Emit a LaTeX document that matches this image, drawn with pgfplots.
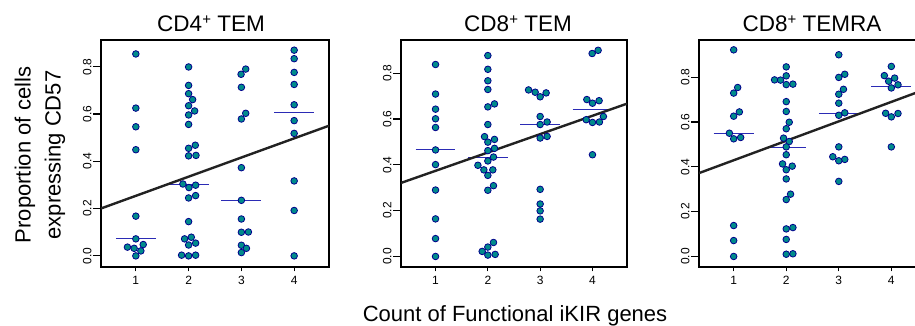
\documentclass[border=0pt]{standalone}
\usepackage{pgfplots}
\pgfplotsset{compat=1.18}
\usepackage{fontspec}
\setmainfont{Liberation Sans}
\definecolor{dotfill}{HTML}{008B8B}
\definecolor{dotedge}{HTML}{00008B}
\definecolor{medcol}{HTML}{2B2BB5}
\definecolor{regcol}{HTML}{222222}
\newcommand{\plussup}{\raisebox{0.62ex}{\fontsize{15}{15}\selectfont +}}
\pgfplotsset{
  panel/.style={
    scale only axis, height=227pt, anchor=south west,
    xmin=0.34, xmax=4.66, xtick={1,2,3,4}, xticklabels={1,2,3,4}, ytick={0,0.2,0.4,0.6,0.8},
    tick pos=left, tick align=outside,
    axis line style={line width=1.6pt},
    /pgf/number format/assume math mode=true,
    /pgf/number format/fixed, /pgf/number format/fixed zerofill, /pgf/number format/precision=1,
    ticklabel style={font=\fontsize{12}{14}\selectfont},
    xtick style={line width=1.2pt, black, /pgfplots/major tick length=4.5pt},
    ytick style={line width=1.2pt, black, /pgfplots/major tick length=8pt},
    yticklabel style={rotate=90, anchor=south, inner xsep=0pt, inner ysep=5pt},
    xticklabel style={anchor=north, inner xsep=0pt, inner ysep=0pt, yshift=-5pt},
    clip=true,
  },
  dots/.style={only marks, mark=*, mark size=3.3pt, mark options={fill=dotfill, draw=dotedge, line width=0.8pt}},
  med/.style={medcol, line width=1pt, no marks},
  reg/.style={regcol, line width=2.4pt, no marks},
}
\begin{document}
\begin{tikzpicture}[x=1pt,y=1pt]
\path[use as bounding box, clip] (0,0) rectangle (915,326);
% Panel 1: CD4+ TEM
\begin{axis}[panel, at={(101pt,59pt)}, width=228pt, ymin=-0.047, ymax=0.913]
\addplot[dots] coordinates {
(1,0.854) (1,0.625) (1,0.546) (1,0.449) (1,0.168) (1,0.072) (0.841,0.037) (0.968,0.032) (1.14,0.048) (1.095,0.021) (1,0.0)
(2,0.799) (2,0.721) (2,0.686) (2.076,0.661) (2,0.635) (2.114,0.613) (2,0.596) (2,0.556) (2.127,0.468) (2,0.455) (2,0.423) (2.14,0.425) (1.892,0.304) (2.133,0.299) (2.006,0.289) (2.133,0.255) (2,0.245) (2,0.145) (1.924,0.072) (2.051,0.079) (2,0.046) (2.133,0.054) (1.867,0.003) (2,0.0) (2.133,0.003)
(3.082,0.790) (2.994,0.768) (3,0.713) (3.082,0.603) (3,0.579) (3,0.373) (3,0.235) (3,0.156) (3,0.100) (3.133,0.101) (3,0.045) (3.095,0.032) (3,0.014)
(4,0.870) (4,0.834) (4,0.776) (4,0.725) (4,0.639) (4,0.572) (4,0.518) (4,0.317) (4,0.192) (4,0.0)
};
\addplot[med] coordinates {(0.62,0.072) (1.38,0.072)};
\addplot[med] coordinates {(1.62,0.304) (2.38,0.304)};
\addplot[med] coordinates {(2.62,0.235) (3.38,0.235)};
\addplot[med] coordinates {(3.62,0.606) (4.38,0.606)};
\addplot[reg] coordinates {(0.34,0.2005) (4.66,0.5505)};
\end{axis}
% Panel 2: CD8+ TEM
\begin{axis}[panel, at={(401pt,59pt)}, width=226pt, ymin=-0.046, ymax=0.945]
\addplot[dots] coordinates {
(1,0.838) (1,0.709) (1,0.643) (1,0.601) (1,0.563) (1,0.465) (1,0.401) (1,0.290) (1,0.164) (1,0.078) (1,0.0)
(2,0.877) (2,0.817) (2,0.767) (2,0.729) (2,0.653) (2.127,0.666) (2,0.576) (1.937,0.523) (2.127,0.511) (2,0.499) (2.127,0.472) (2,0.462) (2.108,0.434) (2,0.417) (1.81,0.398) (1.924,0.378) (2.095,0.378) (2,0.354) (2.108,0.309) (2,0.289) (2.108,0.061) (2,0.041) (1.892,0.022) (2,0.006) (2.14,0.009)
(2.778,0.727) (2.905,0.717) (3.114,0.714) (3,0.697) (3,0.611) (3.133,0.587) (3,0.576) (3.133,0.524) (3,0.517) (3,0.293) (3,0.229) (3,0.199) (3,0.163)
(4.108,0.900) (3.994,0.886) (3.892,0.685) (4,0.669) (4.127,0.680) (4.209,0.611) (3.88,0.597) (4,0.585) (4.133,0.587) (4,0.444)
};
\addplot[med] coordinates {(0.62,0.465) (1.38,0.465)};
\addplot[med] coordinates {(1.62,0.434) (2.38,0.434)};
\addplot[med] coordinates {(2.62,0.576) (3.38,0.576)};
\addplot[med] coordinates {(3.62,0.640) (4.38,0.640)};
\addplot[reg] coordinates {(0.34,0.321) (4.66,0.667)};
\end{axis}
% Panel 3: CD8+ TEMRA
\begin{axis}[panel, at={(699pt,59pt)}, width=227pt, ymin=-0.047, ymax=0.966]
\addplot[dots] coordinates {
(1,0.922) (1.076,0.754) (1,0.729) (1.108,0.645) (1,0.626) (0.918,0.550) (1,0.525) (1.133,0.531) (1,0.138) (1,0.071) (1,0.0)
(2,0.846) (2,0.806) (1.778,0.788) (1.892,0.787) (2,0.767) (2.127,0.769) (2,0.691) (2,0.647) (2.057,0.599) (2,0.570) (1.949,0.528) (2.057,0.513) (2,0.489) (2,0.454) (1.93,0.413) (2.114,0.403) (2,0.387) (2,0.346) (2.082,0.278) (2,0.254) (2.127,0.129) (2,0.123) (2,0.076) (2,0.010) (2.127,0.012)
(3,0.900) (3.114,0.813) (3,0.799) (3.089,0.746) (3,0.724) (3,0.684) (3.114,0.641) (3,0.630) (3,0.489) (2.886,0.445) (3.114,0.433) (3,0.427) (3,0.335)
(4,0.848) (3.867,0.807) (4.063,0.796) (3.949,0.782) (4.127,0.766) (4,0.752) (3.892,0.639) (4.127,0.638) (4,0.623) (4,0.489)
};
\addplot[med] coordinates {(0.62,0.550) (1.38,0.550)};
\addplot[med] coordinates {(1.62,0.488) (2.38,0.488)};
\addplot[med] coordinates {(2.62,0.639) (3.38,0.639)};
\addplot[med] coordinates {(3.62,0.758) (4.38,0.758)};
\addplot[reg] coordinates {(0.34,0.372) (4.66,0.747)};
\end{axis}
% Titles and labels
\node[font=\fontsize{22.5}{27}\selectfont, anchor=base, inner sep=0pt] at (211,294.3) {CD4\plussup{} TEM};
\node[font=\fontsize{22.5}{27}\selectfont, anchor=base, inner sep=0pt] at (518,294.3) {CD8\plussup{} TEM};
\node[font=\fontsize{22.5}{27}\selectfont, anchor=base, inner sep=0pt] at (812,294.3) {CD8\plussup{} TEMRA};
\node[rotate=90, align=center, font=\fontsize{22}{30}\selectfont, inner sep=0pt] at (40,171) {Proportion of cells\\expressing CD57};
\node[anchor=base, font=\fontsize{22}{26}\selectfont, inner sep=0pt] at (515,4) {Count of Functional iKIR genes};
\end{tikzpicture}
\end{document}
